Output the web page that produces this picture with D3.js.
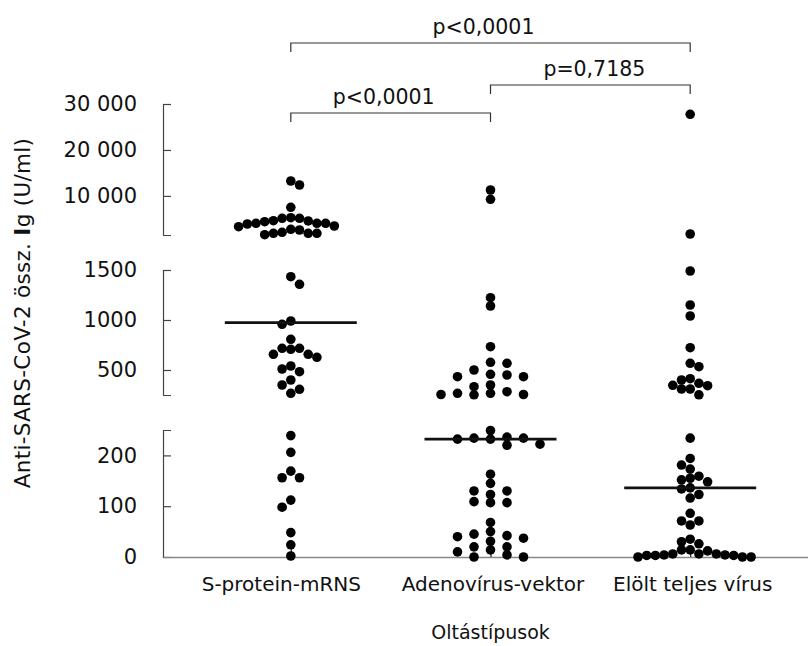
<!DOCTYPE html>
<html>
<head>
<meta charset="utf-8">
<script src="https://cdn.jsdelivr.net/npm/d3@7"></script>
<style>
  body { margin: 0; background: #fff; }
  svg { display: block; font-family: 'DejaVu Sans', sans-serif; }
  .eixo path, .eixo line { stroke: #444; stroke-width: 1.2; }
  .eixo text { font-size: 21px; fill: #111; font-family: 'DejaVu Sans', sans-serif; }
  #eixoX path { stroke: #888; stroke-width: 1.5; }
  #eixoX line { stroke: #222; stroke-width: 1.2; }
  #eixoX text { font-size: 20px; }
  .titulo { font-size: 19px; fill: #111; }
  .pvalor { font-size: 20.5px; fill: #111; }
  .chave { fill: none; stroke: #333; stroke-width: 1.2; }
</style>
</head>
<body>
<svg id="grafico"></svg>
<script>
// categorias e valores (U/ml)
const categorias = ['S-protein-mRNS', 'Adenovírus-vektor', 'Elölt teljes vírus'];

const sProtein = [13250, 12380, 7530, 5260, 5130, 5130, 4610, 4550, 4390, 4050, 4050, 4050, 3890, 3460, 3310,
  2740, 2590, 2090, 1870, 1870, 1870, 1560,
  1433, 1357, 990, 957, 807, 717, 717, 707, 657, 657, 627, 540, 510, 483, 400, 350, 307, 267,
  239, 206, 169, 156, 156, 112, 98, 48, 24, 2];

const adenovirus = [11290, 9270, 1223, 1140, 733, 577, 567, 500, 457, 450, 433, 433, 350, 333, 283, 267, 267,
  255, 255, 252,
  249, 236, 234, 234, 232, 232, 222, 220, 163, 145, 130, 130, 123, 109, 107, 107,
  68, 50, 45, 42, 40, 37, 31, 20, 20, 14, 10, 4, 0, 0];

const elolt = [27760, 1720, 1490, 1150, 1040, 723, 567, 533, 413, 400, 367, 347, 343, 310, 310, 252,
  234, 194, 181, 173, 159, 155, 152, 148, 136, 134, 123, 116, 86, 71, 71, 63,
  35, 30, 26, 14, 14, 12, 6, 6, 6, 4, 4, 3, 3, 3, 0, 0, 0];

// eixo Y quebrado em três trechos
const quebras = [0, 250, 1500, 30000];
const ticksBaixo = [0, 100, 200];
const rotulosBaixo = ['0', '100', '200'];
const ticksMeio = [500, 1000, 1500];
const rotulosMeio = ['500', '1000', '1500'];
const ticksTopo = [10000, 20000, 30000];
const rotulosTopo = ['10 000', '20 000', '30 000'];

const comparacoes = [
  { de: 0, ate: 2, texto: 'p<0,0001' },
  { de: 1, ate: 2, texto: 'p=0,7185' },
  { de: 0, ate: 1, texto: 'p<0,0001' }
];

const tituloY = 'Anti-SARS-CoV-2 össz. ';
const tituloX = 'Oltástípusok';

function criaGrafico() {
  const largura = 808, altura = 646;
  const svg = d3.select('#grafico').attr('width', largura).attr('height', altura);
  const eixoEsq = 163;

  const yBaixo = d3.scaleLinear().domain([quebras[0], quebras[1]]).range([557, 430]);
  const yMeio = d3.scaleLinear().domain([quebras[1], quebras[2]]).range([395, 270]);
  const yTopo = d3.scaleLinear().domain([quebras[2], quebras[3]]).range([235, 104]);
  const y = v => v <= quebras[1] ? yBaixo(v) : (v <= quebras[2] ? yMeio(v) : yTopo(v));

  const x = d3.scalePoint().domain(categorias).range([eixoEsq, 818]).padding(0.64);

  // eixos Y
  [[yBaixo, ticksBaixo, rotulosBaixo], [yMeio, ticksMeio, rotulosMeio], [yTopo, ticksTopo, rotulosTopo]]
    .forEach(([escala, ticks, rotulos]) => {
      svg.append('g')
        .attr('class', 'eixo')
        .attr('transform', `translate(${eixoEsq}, 0)`)
        .call(d3.axisLeft(escala).tickValues(ticks).tickFormat((d, i) => rotulos[i])
          .tickSize(-8).tickSizeOuter(-8).tickPadding(26));
    });

  // eixo X
  const eixoX = svg.append('g')
    .attr('class', 'eixo')
    .attr('id', 'eixoX')
    .attr('transform', 'translate(0, 557)')
    .call(d3.axisBottom(x).tickSize(-8).tickSizeOuter(0).tickPadding(20));
  eixoX.selectAll('text').attr('dx', (d, i) => i === 0 ? -10 : 2);

  // pontos em enxame
  const grupos = [sProtein, adenovirus, elolt];
  const passos = [8.7, 16.5, 8.7];
  const folgaY = [9.5, 8, 8];
  const raio = 4.8;

  grupos.forEach((valores, g) => {
    const cx = x(categorias[g]);
    const pts = valores.map(v => ({ v, py: y(v) })).sort((a, b) => a.py - b.py);
    const colocados = [];
    let lado = 1;
    pts.forEach(p => {
      for (let k = 0; k < 200; k++) {
        const cands = k === 0 ? [0] : [lado * k * passos[g] / 2, -lado * k * passos[g] / 2];
        const livre = cands.find(dx => !colocados.some(q =>
          Math.abs(q.dx - dx) < passos[g] * 0.999 && Math.abs(q.py - p.py) < folgaY[g]));
        if (livre !== undefined) {
          p.dx = livre;
          if (livre !== 0) lado = livre > 0 ? -1 : 1;
          break;
        }
      }
      colocados.push(p);
    });

    svg.selectAll('.ponto' + g)
      .data(pts)
      .enter()
      .append('circle')
      .attr('cx', d => cx + d.dx)
      .attr('cy', d => d.py)
      .attr('r', raio)
      .attr('fill', '#000');

    // mediana
    const med = d3.median(valores);
    svg.append('line')
      .attr('x1', cx - 66).attr('x2', cx + 66)
      .attr('y1', y(med)).attr('y2', y(med))
      .attr('stroke', '#111').attr('stroke-width', 2.6);
  });

  // chaves de comparação
  const alturasChave = [43, 85, 113];
  const desvioTexto = [-7, 4, -7];
  comparacoes.forEach((c, i) => {
    const x1 = x(categorias[c.de]), x2 = x(categorias[c.ate]), yc = alturasChave[i];
    svg.append('path')
      .attr('class', 'chave')
      .attr('d', `M${x1},${yc + 9}V${yc}H${x2}V${yc + 9}`);
    svg.append('text')
      .attr('class', 'pvalor')
      .attr('x', (x1 + x2) / 2 + desvioTexto[i])
      .attr('y', yc - 9)
      .style('text-anchor', 'middle')
      .text(c.texto);
  });

  // títulos
  const ty = svg.append('text')
    .attr('class', 'titulo')
    .style('text-anchor', 'middle')
    .style('font-size', '21.5px')
    .style('letter-spacing', '0.3px')
    .attr('transform', 'translate(30, 313) rotate(-90)');
  ty.append('tspan').text(tituloY);
  ty.append('tspan').style('font-weight', 'bold').text('I');
  ty.append('tspan').text('g (U/ml)');

  svg.append('text')
    .attr('class', 'titulo')
    .style('text-anchor', 'middle')
    .attr('x', x(categorias[1]))
    .attr('y', 639)
    .text(tituloX);
}

criaGrafico();
</script>
</body>
</html>
